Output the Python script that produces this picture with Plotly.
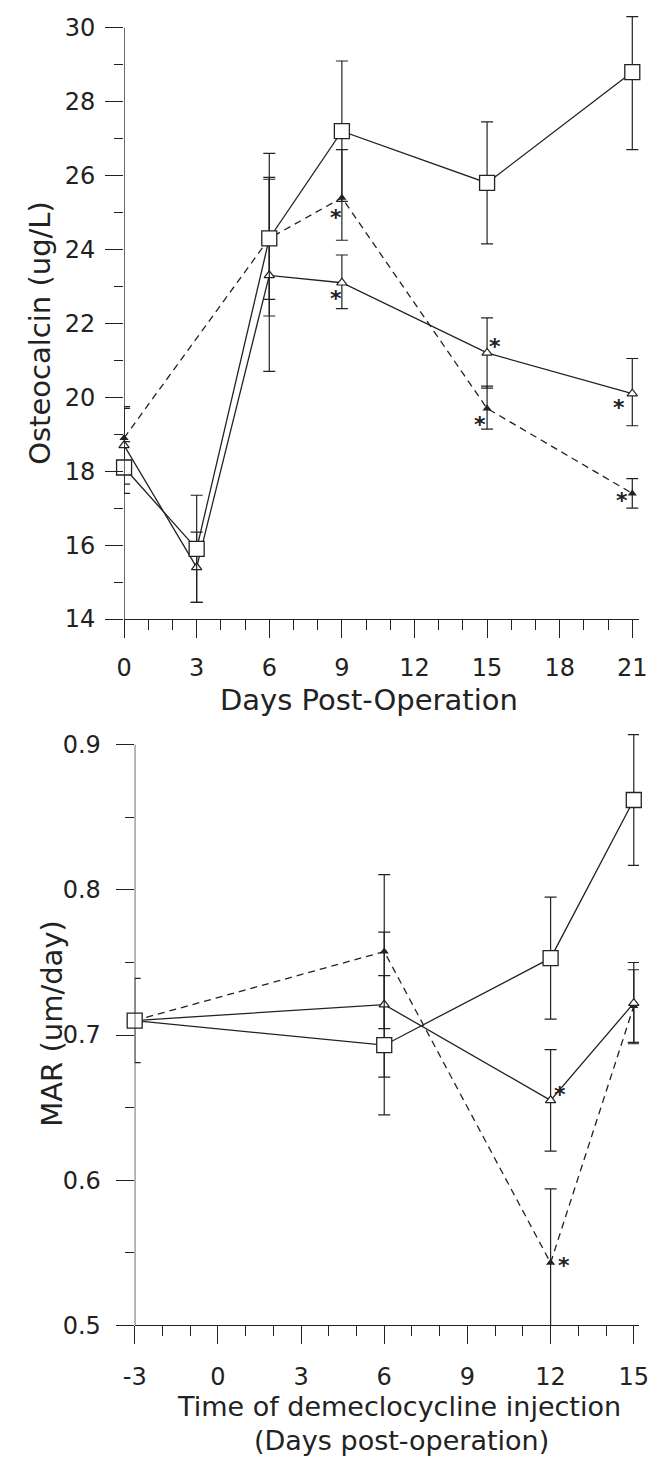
import plotly.graph_objects as go

W, H = 649, 1471

# ---------------- data: top panel (Osteocalcin) ----------------
days_top = [0, 3, 6, 9, 15, 21]
sq_oc = [18.1, 15.9, 24.3, 27.2, 25.8, 28.8]
sq_oc_up = [0.7, 1.45, 2.3, 1.9, 1.65, 1.5]
sq_oc_dn = [0.7, 1.45, 2.1, 1.9, 1.65, 2.1]

otri_oc = [18.7, 15.4, 23.3, 23.1, 21.2, 20.1]
otri_oc_up = [1.05, 0.95, 2.6, 0.75, 0.95, 0.95]
otri_oc_dn = [1.05, 0.95, 2.6, 0.7, 0.95, 0.87]

days_top_f = [0, 6, 9, 15, 21]
ftri_oc = [18.9, 24.3, 25.4, 19.7, 17.4]
ftri_oc_up = [0.8, 1.65, 1.3, 0.6, 0.4]
ftri_oc_dn = [0.8, 1.65, 1.15, 0.56, 0.4]

star_top_x = [8.75, 8.75, 15.33, 14.7, 20.45, 20.57]
star_top_y = [25.02, 22.83, 21.55, 19.43, 19.9, 17.37]

# ---------------- data: bottom panel (MAR) ----------------
days_bot = [-3, 6, 12, 15]
sq_mar = [0.71, 0.693, 0.753, 0.862]
sq_mar_err = [0.029, 0.048, 0.042, 0.045]
otri_mar = [0.71, 0.721, 0.655, 0.722]
otri_mar_err = [0.0, 0.05, 0.035, 0.028]
ftri_mar = [0.71, 0.7575, 0.543, 0.72]
ftri_mar_err = [0.0, 0.053, 0.051, 0.025]

star_bot_x = [12.33, 12.5]
star_bot_y = [0.663, 0.545]

top_yticks = [14, 16, 18, 20, 22, 24, 26, 28, 30]
top_xticks = [0, 3, 6, 9, 12, 15, 18, 21]
bot_yticks = [0.5, 0.6, 0.7, 0.8, 0.9]
bot_ytick_text = ["0.5", "0.6", "0.7", "0.8", "0.9"]
bot_xticks = [-3, 0, 3, 6, 9, 12, 15]
bot_xtick_text = ["-3", "0", "3", "6", "9", "12", "15"]

INK = "#222222"
FONT = "DejaVu Sans, Liberation Sans, Arial, sans-serif"
TICK_SIZE = 24
TITLE_SIZE = 29


def px(x):
    return x / W


def py(y):
    return 1 - y / H


def err(up, dn=None):
    d = dict(type="data", array=up, visible=True, color=INK, thickness=1.2, width=6)
    if dn is not None:
        d["symmetric"] = False
        d["arrayminus"] = dn
    return d


fig = go.Figure()

# --- top panel traces ---
fig.add_trace(go.Scatter(
    x=days_top_f, y=ftri_oc, mode="lines+markers", xaxis="x", yaxis="y",
    line=dict(color=INK, width=1.3, dash="7px,5px"),
    marker=dict(symbol="triangle-up", size=8, color=INK),
    error_y=err(ftri_oc_up, ftri_oc_dn), cliponaxis=False, showlegend=False))
fig.add_trace(go.Scatter(
    x=days_top, y=otri_oc, mode="lines+markers", xaxis="x", yaxis="y",
    line=dict(color=INK, width=1.3),
    marker=dict(symbol="triangle-up", size=9, color="white", line=dict(color=INK, width=1.2)),
    error_y=err(otri_oc_up, otri_oc_dn), cliponaxis=False, showlegend=False))
fig.add_trace(go.Scatter(
    x=days_top, y=sq_oc, mode="lines+markers", xaxis="x", yaxis="y",
    line=dict(color=INK, width=1.3),
    marker=dict(symbol="square", size=15, color="white", line=dict(color=INK, width=1.3)),
    error_y=err(sq_oc_up, sq_oc_dn), cliponaxis=False, showlegend=False))

# --- bottom panel traces ---
fig.add_trace(go.Scatter(
    x=days_bot, y=ftri_mar, mode="lines+markers", xaxis="x2", yaxis="y2",
    line=dict(color=INK, width=1.3, dash="7px,5px"),
    marker=dict(symbol="triangle-up", size=8, color=INK),
    error_y=err(ftri_mar_err), cliponaxis=False, showlegend=False))
fig.add_trace(go.Scatter(
    x=days_bot, y=otri_mar, mode="lines+markers", xaxis="x2", yaxis="y2",
    line=dict(color=INK, width=1.3),
    marker=dict(symbol="triangle-up", size=9, color="white", line=dict(color=INK, width=1.2)),
    error_y=err(otri_mar_err), cliponaxis=False, showlegend=False))
fig.add_trace(go.Scatter(
    x=days_bot, y=sq_mar, mode="lines+markers", xaxis="x2", yaxis="y2",
    line=dict(color=INK, width=1.3),
    marker=dict(symbol="square", size=15, color="white", line=dict(color=INK, width=1.3)),
    error_y=err(sq_mar_err), cliponaxis=False, showlegend=False))

annotations = []
for sx, sy in zip(star_top_x, star_top_y):
    annotations.append(dict(x=sx, y=sy, xref="x", yref="y", text="<b>*</b>", showarrow=False,
                            font=dict(family=FONT, size=22, color=INK), yshift=-6))
for sx, sy in zip(star_bot_x, star_bot_y):
    annotations.append(dict(x=sx, y=sy, xref="x2", yref="y2", text="<b>*</b>", showarrow=False,
                            font=dict(family=FONT, size=22, color=INK), yshift=-6))

# axis titles
tfont = dict(family=FONT, size=TITLE_SIZE, color=INK)
bfont = dict(family=FONT, size=27, color=INK)
annotations += [
    dict(x=px(29), y=py(336), xref="paper", yref="paper", text="Osteocalcin (ug/L)", textangle=-90,
         showarrow=False, font=tfont, xanchor="center", yanchor="middle"),
    dict(x=px(370), y=py(707), xref="paper", yref="paper", text="Days Post-Operation",
         showarrow=False, font=tfont, xanchor="center", yanchor="middle"),
    dict(x=px(42), y=py(1033), xref="paper", yref="paper", text="MAR (um/day)", textangle=-90,
         showarrow=False, font=tfont, xanchor="center", yanchor="middle"),
    dict(x=px(401), y=py(1420.5), xref="paper", yref="paper", text="Time of demeclocycline injection",
         showarrow=False, font=bfont, xanchor="center", yanchor="middle"),
    dict(x=px(403), y=py(1454), xref="paper", yref="paper", text="(Days post-operation)",
         showarrow=False, font=bfont, xanchor="center", yanchor="middle"),
]

# geometry (pixels)
top_x0, top_ppd = 116, 25.05
top_y14, top_y30 = 625, 28
top_ppu = (top_y14 - top_y30) / 16
top_ymax = 30.5
top_ytop_px = top_y30 - (top_ymax - 30) * top_ppu

bot_x0, bot_ppd = 127, 28.7
bot_y05, bot_y09 = 1338, 752
bot_ppu = (bot_y05 - bot_y09) / 0.4
bot_ymax = 0.915
bot_ytop_px = bot_y09 - (bot_ymax - 0.9) * bot_ppu

common_tick = dict(ticks="outside", tickcolor=INK, tickwidth=1.3, ticklen=18,
                   showgrid=False, zeroline=False,
                   tickfont=dict(family=FONT, size=TICK_SIZE, color=INK))

fig.update_layout(
    width=W, height=H, margin=dict(l=0, r=0, t=0, b=0),
    paper_bgcolor="white", plot_bgcolor="white",
    xaxis=dict(domain=[px(top_x0), 1], range=[0, (W - top_x0) / top_ppd],
               tickvals=top_xticks, showline=True, linecolor=INK, linewidth=1.3,
               minor=dict(dtick=1, tick0=0, ticks="outside", ticklen=10, tickwidth=1.2, tickcolor=INK),
               ticklabelstandoff=9, ticklabeloverflow="allow", anchor="y", **common_tick),
    yaxis=dict(domain=[py(top_y14), py(top_ytop_px)], range=[14, top_ymax],
               tickvals=top_yticks, showline=False,
               minor=dict(dtick=1, tick0=14, ticks="outside", ticklen=9, tickwidth=1.2, tickcolor=INK),
               ticklabelstandoff=5, anchor="x", **common_tick),
    xaxis2=dict(domain=[px(bot_x0), 1], range=[-3, -3 + (W - bot_x0) / bot_ppd],
                tickvals=bot_xticks, ticktext=bot_xtick_text, showline=True, linecolor=INK, linewidth=1.3,
                minor=dict(dtick=1, tick0=0, ticks="outside", ticklen=10, tickwidth=1.2, tickcolor=INK),
                ticklabelstandoff=12, ticklabeloverflow="allow", anchor="y2", **common_tick),
    yaxis2=dict(domain=[py(bot_y05), py(bot_ytop_px)], range=[0.5, bot_ymax],
                tickvals=bot_yticks, ticktext=bot_ytick_text, showline=False,
                minor=dict(dtick=0.05, tick0=0.5, ticks="outside", ticklen=9, tickwidth=1.2, tickcolor=INK),
                ticklabelstandoff=10, anchor="x2", **common_tick),
    annotations=annotations,
    shapes=[
        dict(type="line", xref="x", yref="y", x0=0, x1=0, y0=14, y1=30,
             line=dict(color=INK, width=1.3)),
        dict(type="line", xref="x2", yref="y2", x0=-3, x1=-3, y0=0.5, y1=0.9,
             line=dict(color=INK, width=1.3)),
    ],
)

fig.write_html("out.html")
